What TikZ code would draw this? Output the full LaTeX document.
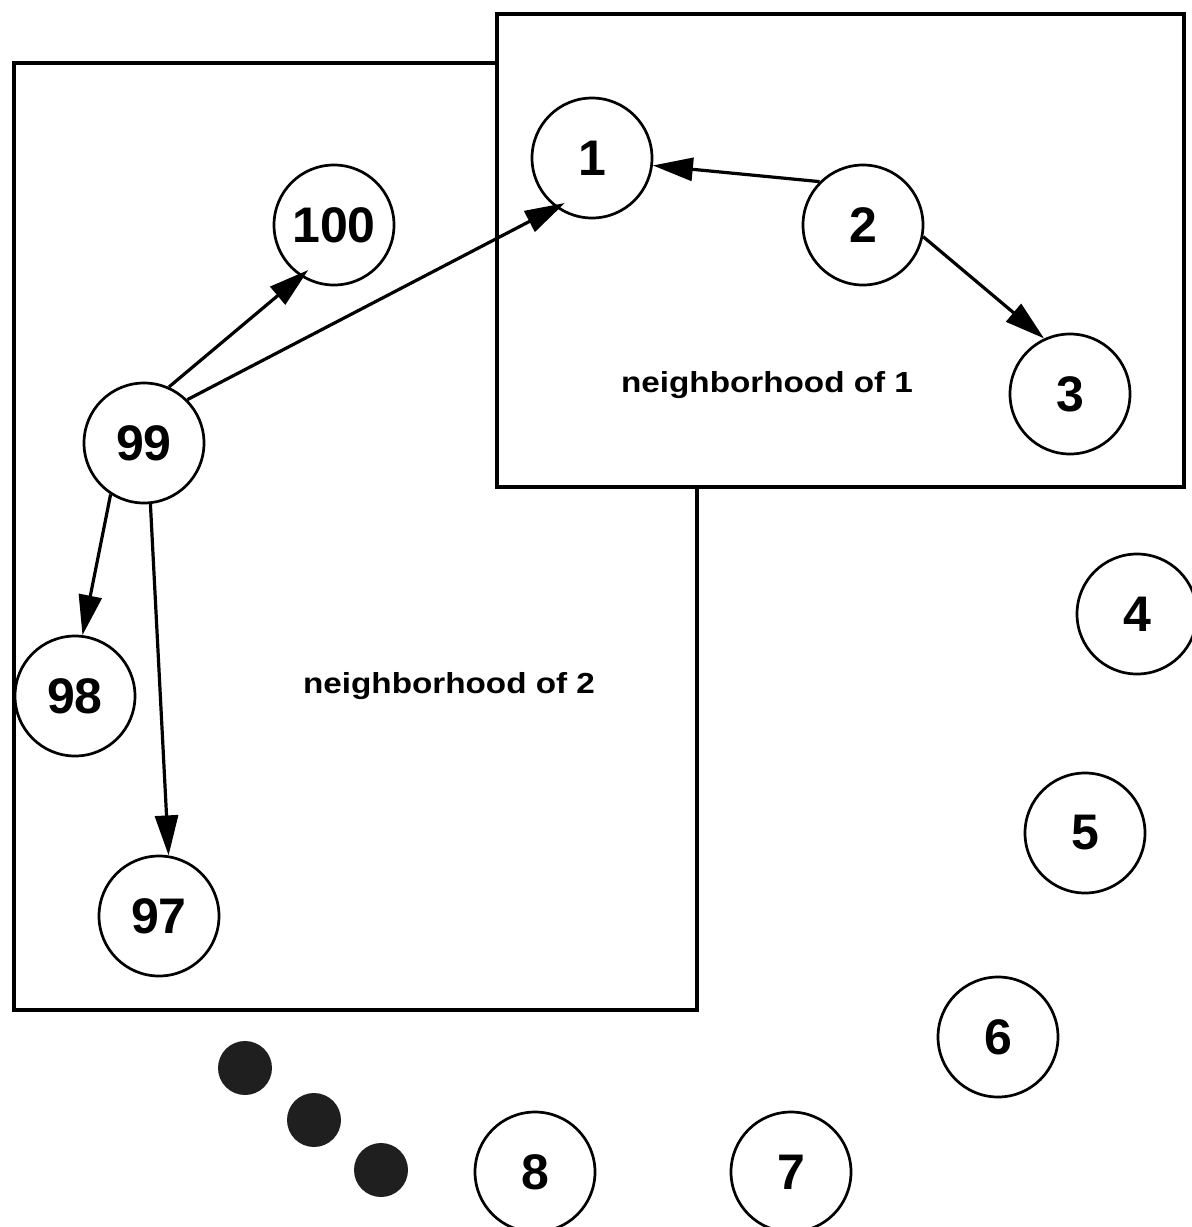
\documentclass[tikz,border=0pt]{standalone}
\usepackage{fontspec}
\setmainfont{Liberation Sans}
\usetikzlibrary{arrows.meta}
\tikzset{
  vtx/.style={circle, draw=black, line width=2.7pt, fill=white, minimum size=120pt, inner sep=0pt,
    font=\fontsize{50}{50}\selectfont\bfseries},
  dotnode/.style={circle, fill=black!88, minimum size=54pt, inner sep=0pt},
  regionbox/.style={draw=black, line width=3.2pt, fill=white},
  edge/.style={line width=3.2pt, draw=black, -{Triangle[length=40pt, width=23pt]}},
  lbl/.style={font=\fontsize{29}{30}\selectfont\bfseries, anchor=base, inner sep=0pt}
}
\begin{document}
\begin{tikzpicture}[x=1pt, y=-1pt]
\useasboundingbox (0,0) rectangle (1192,1227);
% regions
\draw[regionbox] (14,63) rectangle (697,1010);
\draw[regionbox] (497,14) rectangle (1184,487);
\node[lbl] (l1) at (767,392) {\scalebox{1.147}[1]{neighborhood of 1}};
\node[lbl] (l2) at (449,693) {\scalebox{1.147}[1]{neighborhood of 2}};
% vertices
\node[vtx] (n1) at (592,158) {1};
\node[vtx] (n100) at (334,225) {100};
\node[vtx] (n2) at (863,225) {2};
\node[vtx] (n3) at (1070,394) {3};
\node[vtx] (n99) at (144,443) {99};
\node[vtx] (n4) at (1137,614) {4};
\node[vtx] (n98) at (75,696) {98};
\node[vtx] (n5) at (1085,833) {5};
\node[vtx] (n97) at (159,916) {97};
\node[vtx] (n6) at (998,1037) {6};
\node[vtx] (n8) at (535,1172) {8};
\node[vtx] (n7) at (791,1172) {7};
% dots
\node[dotnode] (d1) at (245,1068) {};
\node[dotnode] (d2) at (314,1120) {};
\node[dotnode] (d3) at (381,1170) {};
% edges
\draw[edge] (n2.135) -- (n1.-7);
\draw[edge] (n2.-11) -- (n3.115);
\draw[edge, shorten >=-10pt] (n99.45) -- (n1.234);
\draw[edge, shorten >=-10pt] (n99.66) -- (n100.237);
\draw[edge] (n99.237) -- (n98.83);
\draw[edge] (n99.-84) -- (n97.81);
\end{tikzpicture}
\end{document}
